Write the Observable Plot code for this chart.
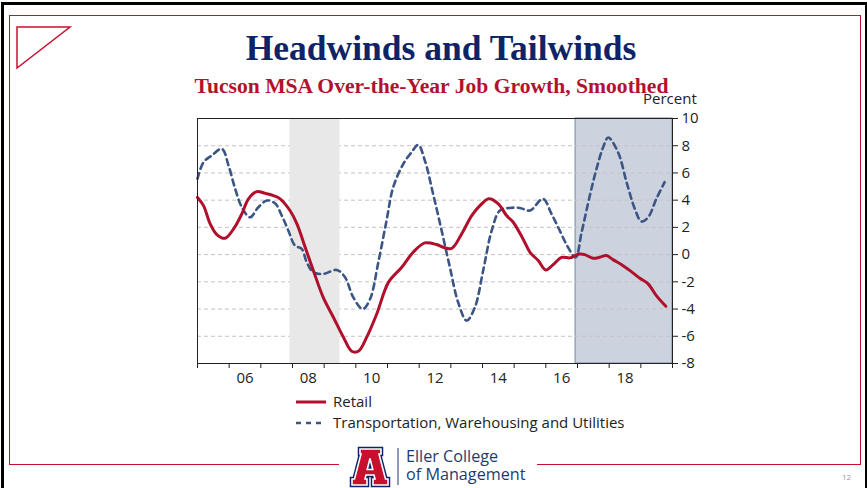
<!DOCTYPE html>
<html>
<head>
<meta charset="utf-8">
<script src="https://cdn.jsdelivr.net/npm/d3@7"></script>
<script src="https://cdn.jsdelivr.net/npm/@observablehq/plot@0.6"></script>
<style>
  html, body { margin: 0; padding: 0; background: #fff; }
  #page { position: relative; width: 867px; height: 488px; overflow: hidden; background: #fff; }
  .abs { position: absolute; }
  #title { left: 0; width: 882px; top: 27px; text-align: center; font-family: "Liberation Serif", serif; font-weight: bold; font-size: 35.5px; color: #0e2466; white-space: nowrap; }
  #subtitle { left: 0; width: 863px; top: 74px; text-align: center; font-family: "Liberation Serif", serif; font-weight: bold; font-size: 21.6px; color: #b3122e; white-space: nowrap; }
  #percent { left: 643px; top: 88px; font-family: "Open Sans", sans-serif; font-size: 15px; color: #222; }
  .leg { font-family: "Open Sans", sans-serif; font-size: 15px; color: #222; white-space: nowrap; }
  #eller { font-family: "Open Sans", sans-serif; color: #1d3b72; font-size: 16.2px; line-height: 18px; white-space: nowrap; }
  #pg { left: 842px; top: 471px; font-family: "Open Sans", sans-serif; font-size: 8px; color: #999; }
</style>
</head>
<body>
<div id="page">
  <div class="abs" style="left:1px;top:2px;width:861px;height:520px;border:3px solid #000;"></div>
  <div class="abs" style="left:9px;top:15px;width:850px;height:448px;border:1.5px solid #c8102e;"></div>
  <div class="abs" style="left:339px;top:455px;width:198px;height:20px;background:#fff;"></div>
  <svg class="abs" style="left:0;top:0" width="90" height="80">
    <polygon points="17,27 70,27 17,68" fill="none" stroke="#c8102e" stroke-width="1.5"/>
  </svg>
  <div id="title" class="abs">Headwinds and Tailwinds</div>
  <div id="subtitle" class="abs">Tucson MSA Over-the-Year Job Growth, Smoothed</div>
  <div id="chart" class="abs" style="left:0;top:0"></div>
  <div id="percent" class="abs">Percent</div>
  <svg class="abs" style="left:290px;top:392px" width="40" height="40">
    <line x1="6" y1="10" x2="36" y2="10" stroke="#b0102b" stroke-width="3"/>
    <line x1="6" y1="31" x2="36" y2="31" stroke="#3b5584" stroke-width="2.5" stroke-dasharray="5,5"/>
  </svg>
  <div class="abs leg" style="left:333px;top:391px">Retail</div>
  <div class="abs leg" style="left:333px;top:412px">Transportation, Warehousing and Utilities</div>
  <svg class="abs" style="left:349px;top:446px" width="56" height="42">
    <g transform="translate(3,3)">
      <path d="M8,0 L29,0 L29,5 L27,5 L33.5,30 L36,30 L36,36 L21,36 L21,30 L23,30 L22,26 L14,26 L13,30 L15,30 L15,36 L0,36 L0,30 L2.5,30 L9,5 L8,5 Z M15.2,20.5 L20.8,20.5 L18,9.5 Z" fill="#0e2466" stroke="#0e2466" stroke-width="4.5" stroke-linejoin="miter" fill-rule="evenodd"/>
      <path d="M8,0 L29,0 L29,5 L27,5 L33.5,30 L36,30 L36,36 L21,36 L21,30 L23,30 L22,26 L14,26 L13,30 L15,30 L15,36 L0,36 L0,30 L2.5,30 L9,5 L8,5 Z M15.2,20.5 L20.8,20.5 L18,9.5 Z" fill="#c8102e" stroke="#fff" stroke-width="1.6" stroke-linejoin="miter" fill-rule="evenodd"/>
    </g>
    <line x1="49" y1="2" x2="49" y2="39" stroke="#1d3b72" stroke-width="1"/>
  </svg>
  <div id="eller" class="abs" style="left:406px;top:447px">Eller College<br>of Management</div>
  <div id="pg" class="abs">12</div>
</div>
<script>
// Retail: decimal year and over-the-year growth (%)
const retailYears = [2005.00,2005.19,2005.40,2005.61,2005.87,2006.14,2006.40,2006.61,2006.87,2007.14,2007.40,2007.61,2007.92,2008.14,2008.40,2008.66,2008.97,2009.29,2009.61,2009.87,2010.08,2010.34,2010.66,2011.03,2011.45,2011.81,2012.18,2012.55,2012.76,2013.03,2013.34,2013.66,2013.92,2014.20,2014.50,2014.76,2014.97,2015.28,2015.50,2015.76,2016.00,2016.23,2016.50,2016.76,2016.94,2017.07,2017.23,2017.49,2017.70,2017.91,2018.12,2018.44,2018.70,2018.97,2019.23,2019.49,2019.79];
const retailValues = [4.2,3.6,2.26,1.47,1.2,1.89,2.99,4.1,4.63,4.5,4.34,4.1,3.24,2.26,0.54,-1.18,-3.14,-4.6,-6.08,-7.1,-7.1,-6.08,-4.36,-2.04,-0.93,0.17,0.86,0.74,0.54,0.46,1.52,2.87,3.6,4.1,3.73,2.87,2.38,1.15,0.17,-0.44,-1.13,-0.74,-0.2,-0.24,-0.05,0.05,0.0,-0.27,-0.2,-0.07,-0.37,-0.81,-1.25,-1.74,-2.15,-3.01,-3.8];
// Transportation, Warehousing and Utilities
const transYears = [2005.00,2005.19,2005.45,2005.77,2005.98,2006.19,2006.40,2006.66,2006.92,2007.19,2007.45,2007.66,2007.87,2008.08,2008.29,2008.45,2008.66,2008.97,2009.40,2009.66,2009.92,2010.22,2010.45,2010.71,2010.97,2011.18,2011.50,2011.76,2011.97,2012.18,2012.44,2012.71,2012.97,2013.23,2013.50,2013.76,2014.02,2014.29,2014.55,2014.86,2015.18,2015.50,2015.91,2016.18,2016.44,2016.70,2016.94,2017.13,2017.39,2017.60,2017.81,2017.97,2018.28,2018.55,2018.81,2019.02,2019.23,2019.49,2019.75];
const transValues = [5.57,6.79,7.28,7.77,6.54,4.83,3.48,2.74,3.48,3.97,3.77,2.87,1.76,0.66,0.42,-0.56,-1.3,-1.42,-1.13,-1.67,-3.14,-4.0,-3.26,-0.56,2.5,4.95,6.67,7.52,8.06,6.91,4.46,1.76,-0.93,-3.5,-4.85,-3.87,-1.18,1.76,3.24,3.43,3.43,3.24,4.1,2.99,1.76,0.54,-0.2,1.64,4.34,6.3,7.89,8.6,7.52,5.32,3.36,2.43,2.74,4.1,5.32];
// Ticks and labels
const yTicks = [-8,-6,-4,-2,0,2,4,6,8,10];
const yearTicks = [2005,2006,2007,2008,2009,2010,2011,2012,2013,2014,2015,2016,2017,2018,2019,2020];
const xLabelYears = [2006.5,2008.5,2010.5,2012.5,2014.5,2016.5,2018.5];
const xLabels = ["06","08","10","12","14","16","18"];
// Shaded periods
const recession = [{start: 2007.92, end: 2009.5}];
const forecast = [{start: 2016.94, end: 2020}];

const retail = retailYears.map((t, i) => ({t, v: retailValues[i]}));
const trans = transYears.map((t, i) => ({t, v: transValues[i]}));

const chart = Plot.plot({
  width: 867,
  height: 488,
  marginLeft: 197,
  marginRight: 195,
  marginTop: 118,
  marginBottom: 125,
  style: {fontFamily: "Open Sans, sans-serif", fontSize: "15px", color: "#222", background: "transparent"},
  x: {domain: [2005, 2020]},
  y: {domain: [-8, 10]},
  marks: [
    Plot.rect(forecast, {x1: "start", x2: "end", y1: () => -8, y2: () => 10, fill: "#ccd3df", stroke: "#8596b3", strokeWidth: 1.2}),
    Plot.ruleY(yTicks, {stroke: "#c4c4c4", strokeDasharray: "4,3", strokeWidth: 1}),
    Plot.rect(recession, {x1: "start", x2: "end", y1: () => -8, y2: () => 10, fill: "#e8e8e8"}),
    Plot.line(trans, {x: "t", y: "v", stroke: "#3b5584", strokeWidth: 2.6, strokeDasharray: "6,4.5", curve: "catmull-rom"}),
    Plot.line(retail, {x: "t", y: "v", stroke: "#b0102b", strokeWidth: 3, curve: "catmull-rom"}),
    Plot.frame({stroke: "#222", strokeWidth: 1}),
    Plot.axisY({anchor: "right", ticks: yTicks, tickSize: 5, tickPadding: 4, tickFormat: d => String(d), label: null, stroke: "#222"}),
    Plot.axisX({anchor: "bottom", ticks: yearTicks, tickSize: 5, tickFormat: () => "", label: null, stroke: "#222"}),
    Plot.axisX({anchor: "bottom", ticks: xLabelYears, tickSize: 0, tickPadding: 9, tickFormat: (d, i) => xLabels[i], label: null})
  ]
});
document.getElementById("chart").appendChild(chart);
</script>
</body>
</html>
